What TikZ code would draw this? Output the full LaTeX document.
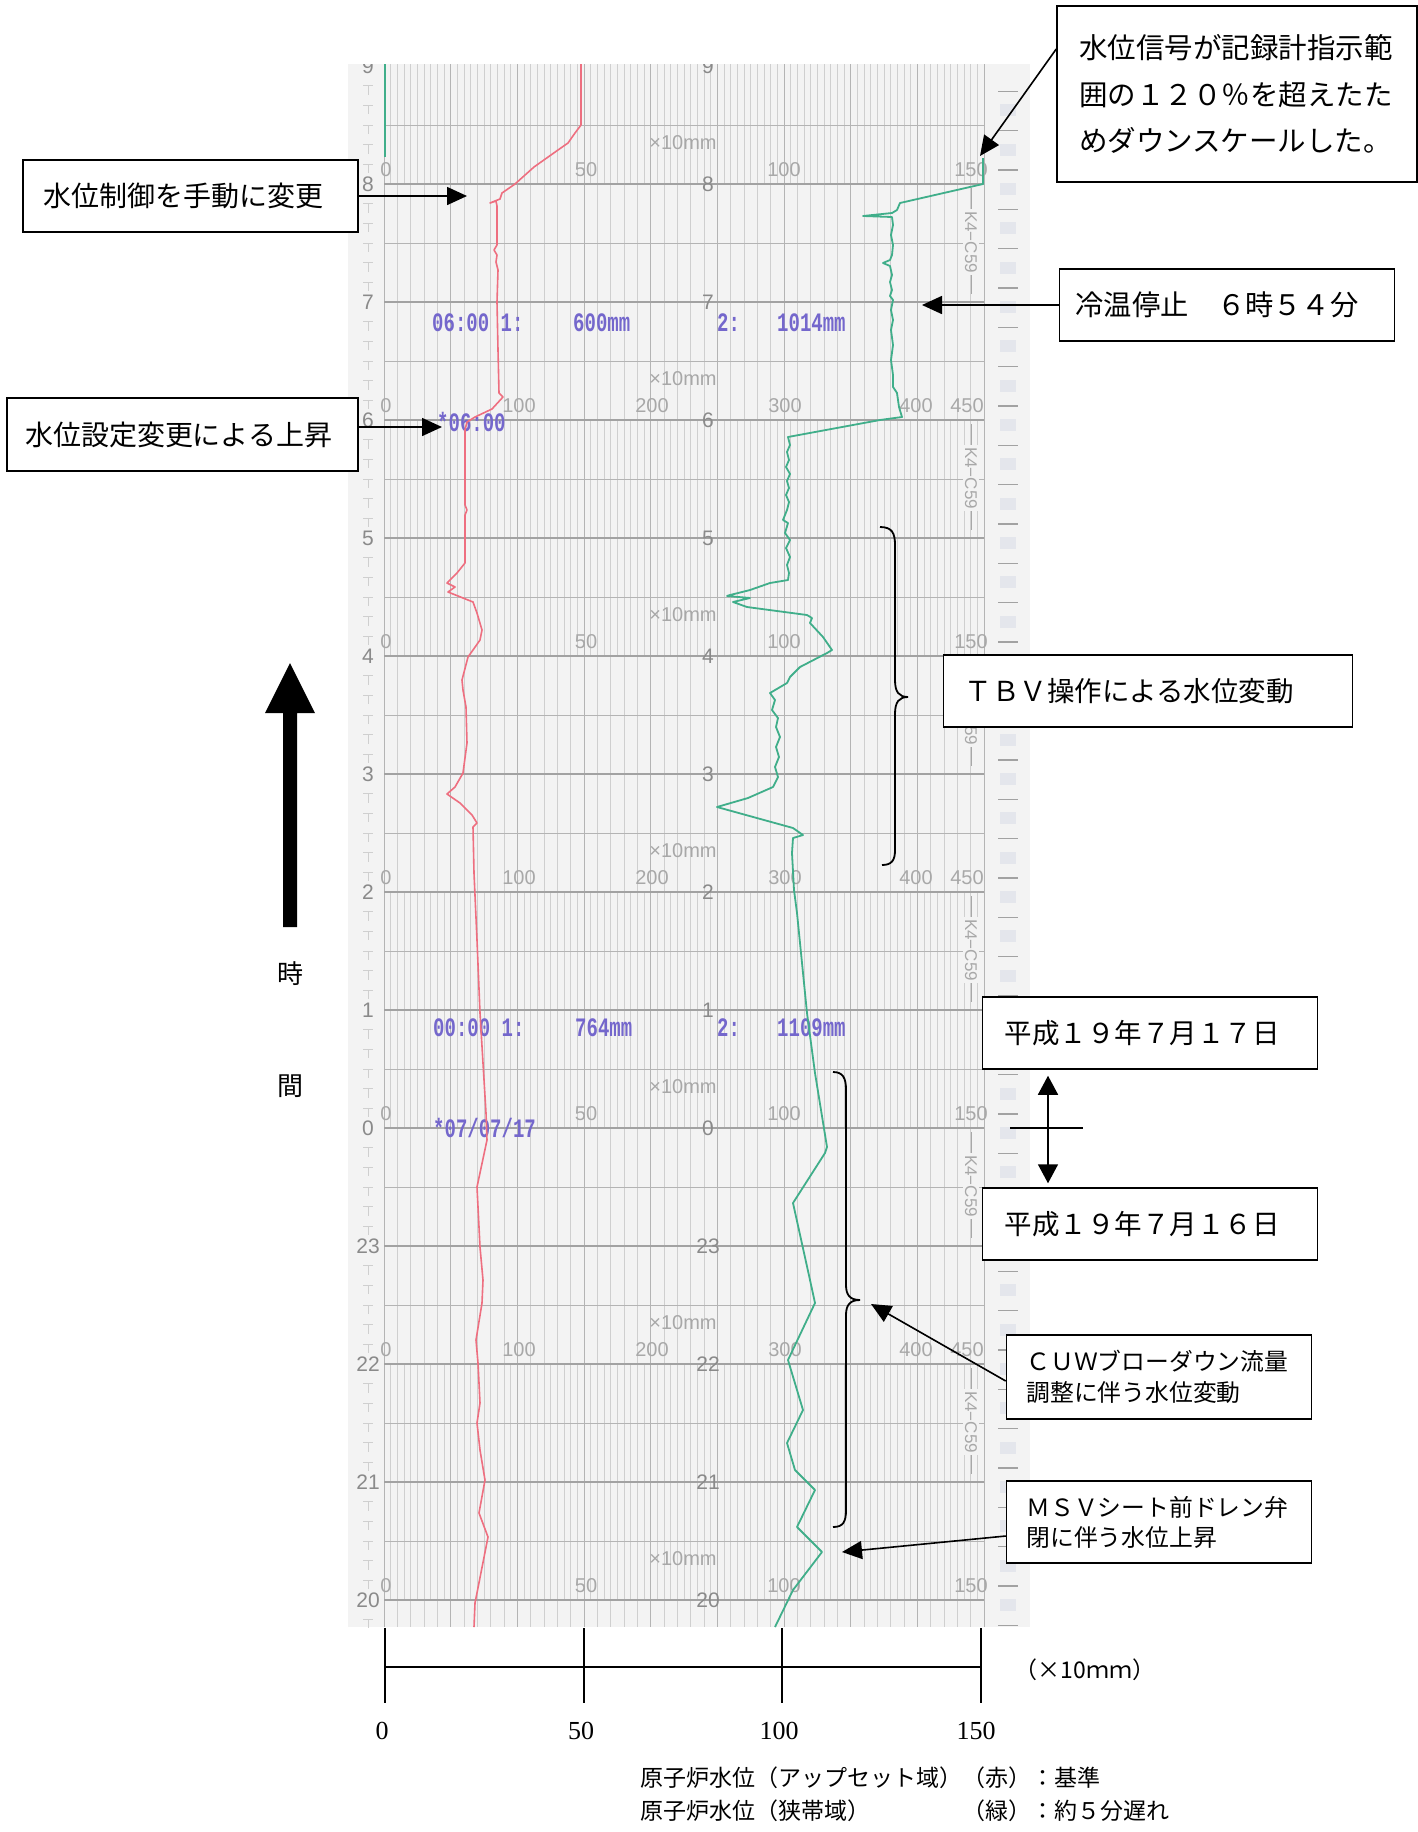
\documentclass[tikz,border=0pt]{standalone}
\usepackage{fontspec}
\usepackage{graphicx}
\usetikzlibrary{arrows.meta,calc}
\newfontfamily\jpf{Noto Sans CJK JP}
\newfontfamily\chf{Liberation Sans}
\newfontfamily\mnf{Liberation Mono}
\newfontfamily\srf{Liberation Serif}
\definecolor{paper}{HTML}{F3F3F3}
\definecolor{gridl}{HTML}{CFCFCF}
\definecolor{gridm}{HTML}{B4B4B4}
\definecolor{gridh}{HTML}{A2A2A2}
\definecolor{labc}{HTML}{A8A8A8}
\definecolor{hourc}{HTML}{8A8A8A}
\definecolor{redtr}{HTML}{EE6F80}
\definecolor{grntr}{HTML}{40AE8A}
\definecolor{bluet}{HTML}{7467CC}
\definecolor{holec}{HTML}{E4E6EC}
\begin{document}
\begin{tikzpicture}[x=1pt,y=-1pt,
  jbox/.style={draw=black,line width=1.5pt,fill=white,inner ysep=0pt,align=left},
  arr/.style={line width=1.6pt,-{Triangle[length=20pt,width=18pt]}},
  gl/.style={draw=gridl,line width=0.7pt},
  gm/.style={draw=gridm,line width=1pt},
  gh/.style={draw=gridh,line width=1.2pt},
  sl/.style={text=labc,font=\chf\fontsize{20}{20}\selectfont,inner sep=0pt},
  hl/.style={text=hourc,font=\chf\fontsize{21}{21}\selectfont,inner sep=0pt},
  kl/.style={text=labc,font=\chf\fontsize{17}{17}\selectfont,inner sep=2pt,fill=paper,rotate=-90},
  bt/.style={text=bluet,font=\mnf\bfseries\fontsize{19}{19}\selectfont,inner sep=0pt,anchor=west},
  redp/.style={draw=redtr,line width=1.6pt,line join=round},
  grnp/.style={draw=grntr,line width=1.8pt,line join=round},
  axl/.style={font=\srf\fontsize{26}{26}\selectfont,inner sep=0pt}
]
\useasboundingbox (0,0) rectangle (1418,1832);
\fill[white] (0,0) rectangle (1418,1832);

% ---------------- recorder chart ----------------
\begin{scope}
\clip (348,64) rectangle (1030,1627);
\fill[paper] (348,64) rectangle (1030,1627);
% right margin marks
\foreach \j in {-2,...,37} {
  \fill[holec] (1000,{183+\j*39.333}) rectangle (1016,{195+\j*39.333});
  \draw[gridh,line width=1.2pt] (998,{170+\j*39.333}) -- (1018,{170+\j*39.333});
}
% left margin ticks
\foreach \k in {-1,...,12} \foreach \s in {1,...,5} {
  \draw[draw=gridl,line width=1pt] (363,{184+\k*118+\s*19.667}) -- (373,{184+\k*118+\s*19.667})
    (368,{184+\k*118+\s*19.667}) -- (368,{184+\k*118+\s*19.667+9});
}
% dense vertical grid
\foreach \ya/\yb in {64/184,420/656,892/1128,1364/1600}
  \foreach \i in {0,...,90} \draw[gl] ({384+\i*6.6667},\ya) -- ({384+\i*6.6667},\yb);
% sparse vertical grid
\foreach \ya/\yb in {184/420,656/892,1128/1364,1600/1627}
  \foreach \i in {0,...,45} \draw[gl] ({384+\i*13.3333},\ya) -- ({384+\i*13.3333},\yb);
% medium vertical lines
\foreach \i in {0,...,9} \draw[gm] ({384+\i*66.6667},64) -- ({384+\i*66.6667},1627);
% half-hour lines
\foreach \k in {0,...,25} \draw[gm] (384,{125+\k*59}) -- (984,{125+\k*59});
% hour lines
\foreach \k in {0,...,12} \draw[gh] (384,{184+\k*118}) -- (984,{184+\k*118});
\foreach \k in {0,2,...,12} \draw[gh,line width=1.8pt] (384,{184+\k*118}) -- (984,{184+\k*118});
% hour numbers
\foreach \h/\k in {9/-1,8/0,7/1,6/2,5/3,4/4,3/5,2/6,1/7,0/8,23/9,22/10,21/11,20/12} {
  \node[hl] (hL\k) at (368,{184+\k*118}) {\h};
  \node[hl] (hC\k) at (708,{184+\k*118}) {\h};
}
% scale labels
\foreach \k in {0,4,8,12} {
  \foreach \v/\xx in {0/386,50/586,100/784,150/971}
    \node[sl] (sa\k-\v) at (\xx,{184+\k*118-14}) {\v};
}
\foreach \k in {2,6,10} {
  \foreach \v/\xx in {0/386,100/519,200/652,300/785,400/916,450/967}
    \node[sl] (sb\k-\v) at (\xx,{184+\k*118-14}) {\v};
}
\foreach \k in {0,2,...,12}
  \node[sl] (mm\k) at (683,{184+\k*118-41}) {×10mm};
% K4-C59 marks
\foreach \k in {0,2,...,10} {
  \draw[draw=labc,line width=1pt] (971,{184+\k*118+4}) -- (971,{184+\k*118+110});
  \node[kl] (kc\k) at (971,{184+\k*118+58}) {K4−C59};
}
% printed blue texts
\node[bt] (bt1) at (432,323) {\scalebox{1}[1.4]{06:00 1:}};
\node[bt] (bt2) at (573,323) {\scalebox{1}[1.4]{600mm}};
\node[bt] (bt3) at (717,323) {\scalebox{1}[1.4]{2:}};
\node[bt] (bt4) at (777,323) {\scalebox{1}[1.4]{1014mm}};
\node[bt] (bt5) at (437,422) {\scalebox{1}[1.4]{*06:00}};
\node[bt] (bt6) at (433,1028) {\scalebox{1}[1.4]{00:00 1:}};
\node[bt] (bt7) at (575,1028) {\scalebox{1}[1.4]{764mm}};
\node[bt] (bt8) at (717,1028) {\scalebox{1}[1.4]{2:}};
\node[bt] (bt9) at (777,1028) {\scalebox{1}[1.4]{1109mm}};
\node[bt] (bt10) at (433,1128) {\scalebox{1}[1.4]{*07/07/17}};
% red trace
\draw[redp] (581,64) -- (581,125) -- (575,133) -- (568,143) -- (558,150) -- (534,167) -- (515,184) -- (502,193) -- (500,199) -- (490,203) -- (496,201) -- (497,206) -- (497,245) -- (494,250) -- (497,255) -- (496,262) -- (498,270) -- (497,302) -- (498,350) -- (499,393) -- (503,397) -- (492,409) -- (475,417) -- (467,422) -- (465,430) -- (465,505) -- (467,510) -- (465,515) -- (465,563) -- (457,573) -- (447,583) -- (455,587) -- (448,592) -- (473,602) -- (477,613) -- (482,630) -- (480,640) -- (473,650) -- (468,657) -- (462,680) -- (463,690) -- (466,707) -- (467,743) -- (463,773) -- (455,787) -- (447,794) -- (460,803) -- (472,815) -- (477,823) -- (473,827) -- (474,873) -- (477,940) -- (480,1013) -- (486,1113) -- (487,1140) -- (477,1187) -- (480,1247) -- (483,1280) -- (482,1303) -- (476,1340) -- (478,1363) -- (480,1403) -- (477,1423) -- (480,1450) -- (485,1480) -- (479,1513) -- (488,1537) -- (475,1603) -- (474,1627);
% green trace
\draw[grnp,line width=1.4pt] (385,64) -- (385,157);
\draw[grnp] (983,158) -- (983,184) -- (900,203) -- (897,210) -- (892,213) -- (863,216) -- (892,217) -- (893,225) -- (891,235) -- (893,245) -- (892,255) -- (890,260) -- (883,263) -- (890,266) -- (892,275) -- (890,282) -- (892,290) -- (890,296) -- (893,300) -- (891,310) -- (893,320) -- (891,330) -- (893,345) -- (891,360) -- (893,375) -- (893,387) -- (897,393) -- (899,407) -- (902,417) -- (880,420) -- (788,437) -- (790,445) -- (787,452) -- (789,460) -- (786,467) -- (790,474) -- (787,481) -- (789,488) -- (786,495) -- (789,502) -- (787,510) -- (783,520) -- (788,523) -- (785,533) -- (790,540) -- (786,548) -- (790,557) -- (787,565) -- (789,573) -- (788,580) -- (770,583) -- (750,590) -- (730,595) -- (727,596) -- (750,598) -- (733,602) -- (747,607) -- (807,615) -- (812,618) -- (810,623) -- (823,637) -- (832,650) -- (827,653) -- (800,667) -- (790,677) -- (787,683) -- (770,693) -- (775,700) -- (772,710) -- (778,718) -- (776,727) -- (780,737) -- (776,747) -- (779,757) -- (775,767) -- (778,777) -- (773,787) -- (748,798) -- (717,807) -- (793,828) -- (803,835) -- (793,838) -- (792,853) -- (794,890) -- (797,913) -- (807,1013) -- (815,1073) -- (827,1147) -- (825,1153) -- (793,1203) -- (810,1280) -- (815,1303) -- (788,1360) -- (803,1410) -- (787,1443) -- (795,1470) -- (815,1490) -- (797,1527) -- (822,1552) -- (793,1590) -- (775,1627);
\end{scope}

% ---------------- annotations ----------------
\node[jbox,minimum width=335pt,minimum height=72pt,text width=295pt,inner xsep=20pt,font=\jpf\fontsize{28}{28}\selectfont] (b1) at (190.5,196) {水位制御を手動に変更};
\node[jbox,minimum width=351pt,minimum height=73pt,text width=315pt,inner xsep=18pt,font=\jpf\fontsize{28}{28}\selectfont] (b2) at (182.5,434.5) {水位設定変更による上昇};
\node[jbox,minimum width=360pt,minimum height=176pt,text width=316pt,inner xsep=22pt,font=\jpf\fontsize{28.5}{46.5}\selectfont] (b3) at (1237,94) {水位信号が記録計指示範\\囲の１２０％を超えたた\\めダウンスケールした。};
\node[jbox,minimum width=335pt,minimum height=72pt,text width=303pt,inner xsep=16pt,font=\jpf\fontsize{28.3}{28.3}\selectfont] (b4) at (1227,305) {冷温停止　６時５４分};
\node[jbox,minimum width=409pt,minimum height=72pt,text width=367pt,inner xsep=21pt,font=\jpf\fontsize{27.5}{27.5}\selectfont] (b5) at (1148,691) {ＴＢＶ操作による水位変動};
\node[jbox,minimum width=335pt,minimum height=72pt,text width=291pt,inner xsep=22pt,font=\jpf\fontsize{27.5}{27.5}\selectfont] (b6) at (1150,1033) {平成１９年７月１７日};
\node[jbox,minimum width=335pt,minimum height=72pt,text width=291pt,inner xsep=22pt,font=\jpf\fontsize{27.5}{27.5}\selectfont] (b7) at (1150,1224) {平成１９年７月１６日};
\node[jbox,minimum width=305pt,minimum height=84pt,text width=265pt,inner xsep=20pt,font=\jpf\fontsize{23.8}{31}\selectfont] (b8) at (1159,1377) {ＣＵＷブローダウン流量\\調整に伴う水位変動};
\node[jbox,minimum width=305pt,minimum height=82pt,text width=265pt,inner xsep=20pt,font=\jpf\fontsize{23.8}{30}\selectfont] (b9) at (1159,1522) {ＭＳＶシート前ドレン弁\\閉に伴う水位上昇};

% arrows
\coordinate (t1) at (467,196);
\draw[arr] (b1.east) -- (t1);
\coordinate (t2) at (442,427);
\draw[arr] (t2 -| b2.east) -- (t2);
\coordinate (t3) at (980,156);
\coordinate (s3) at (1057,49);
\draw[arr] (b3.west |- s3) -- (t3);
\coordinate (t4) at (922,305);
\draw[arr] (b4.west) -- (t4);
\coordinate (t8) at (871,1304);
\draw[arr] ($(b8.west)+(0,4)$) -- (t8);
\coordinate (t9) at (842,1552);
\draw[arr] ($(b9.west)+(0,14)$) -- (t9);
\coordinate (dc) at (1048,1128);
\draw[line width=1.6pt,{Triangle[length=19pt,width=20pt]}-{Triangle[length=19pt,width=20pt]}] ($(dc |- b6.south)+(0,6)$) -- ($(dc |- b7.north)+(0,-4)$);
\draw[line width=1.4pt] ($(dc)+(-38,0)$) -- ($(dc)+(35,0)$);

% braces
\draw[line width=1.8pt] (880,527) .. controls (892,527) and (895,533) .. (895,545) -- (895,680) .. controls (895,692) and (899,697) .. (908,697) .. controls (899,697) and (895,702) .. (895,714) -- (895,850) .. controls (895,860) and (892,865) .. (882,865);
\draw[line width=1.8pt] (833,1072) .. controls (843,1072) and (846,1078) .. (846,1090) -- (846,1285) .. controls (846,1295) and (850,1300) .. (860,1300) .. controls (850,1300) and (846,1305) .. (846,1315) -- (846,1510) .. controls (846,1522) and (843,1527) .. (833,1527);

% time arrow
\fill (283,927) -- (297,927) -- (297,713) -- (315,713) -- (290,663) -- (265,713) -- (283,713) -- cycle;
\node[font=\jpf\fontsize{26}{26}\selectfont,inner sep=0pt] (ji) at (290,974) {時};
\node[font=\jpf\fontsize{26}{26}\selectfont,inner sep=0pt] (kan) at (290,1086) {間};

% bottom axis
\draw[line width=1.6pt] (385,1667) -- (981,1667);
\foreach \xx in {385,584,782,981} \draw[line width=1.6pt] (\xx,1628) -- (\xx,1703);
\node[axl] (ax0) at (382,1731) {0};
\node[axl] (ax50) at (581,1731) {50};
\node[axl] (ax100) at (779,1731) {100};
\node[axl] (ax150) at (976,1731) {150};
\node[font=\jpf\fontsize{23}{23}\selectfont,inner sep=0pt] (unit) at (1085,1670) {（×10ｍｍ）};

% legend
\node[anchor=west,inner sep=0pt,font=\jpf\fontsize{23}{23}\selectfont] (lg1) at (640,1778) {原子炉水位（アップセット域）（赤）：基準};
\node[anchor=west,inner sep=0pt,font=\jpf\fontsize{23}{23}\selectfont] (lg2) at (640,1811) {原子炉水位（狭帯域）　　　　（緑）：約５分遅れ};
\end{tikzpicture}
\end{document}
